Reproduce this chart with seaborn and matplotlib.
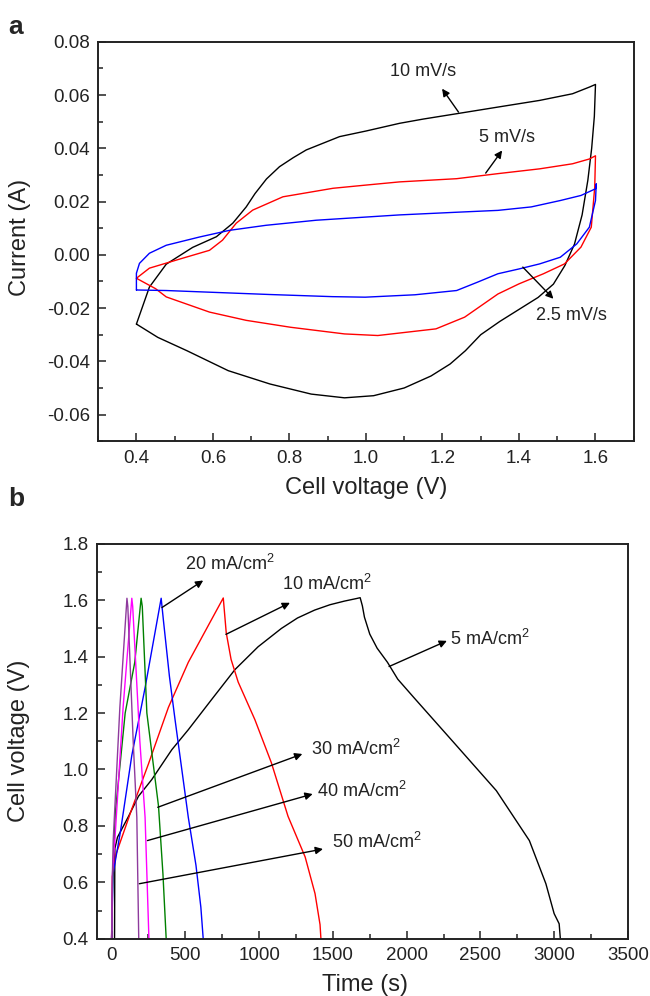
import matplotlib

matplotlib.use("Agg")
import matplotlib.pyplot as plt
import pandas as pd
import seaborn as sns
from matplotlib.ticker import MultipleLocator

# %%
# (a) cyclic voltammetry, closed loops: anodic sweep then cathodic sweep
cv_10_v = [0.400, 0.434, 0.478, 0.547, 0.609, 0.652, 0.687, 0.710, 0.740, 0.774, 0.810, 0.844, 0.931, 1.000,
           1.088, 1.150, 1.237, 1.345, 1.454, 1.540, 1.584, 1.600,
           1.597, 1.590, 1.580, 1.565, 1.545, 1.520, 1.490, 1.450, 1.400, 1.350, 1.300, 1.260, 1.220, 1.170,
           1.100, 1.020, 0.944, 0.857, 0.749, 0.640, 0.532, 0.456, 0.400]
cv_10_i = [-0.0260, -0.0121, -0.0035, 0.0028, 0.0068, 0.0119, 0.0180, 0.0230, 0.0285, 0.0331, 0.0365, 0.0394,
           0.0444, 0.0465, 0.0494, 0.0510, 0.0530, 0.0555, 0.0580, 0.0605, 0.0630, 0.0640,
           0.0520, 0.0400, 0.0280, 0.0150, 0.0040, -0.0040, -0.0110, -0.0160, -0.0205, -0.0250, -0.0300,
           -0.0360, -0.0410, -0.0455, -0.0500, -0.0529, -0.0537, -0.0523, -0.0485, -0.0435, -0.0360, -0.0310,
           -0.0260]

cv_5_v = [0.400, 0.434, 0.520, 0.591, 0.625, 0.661, 0.704, 0.783, 0.914, 1.000, 1.088, 1.237, 1.345, 1.454,
          1.540, 1.584, 1.600,
          1.598, 1.589, 1.562, 1.519, 1.464, 1.400, 1.345, 1.258, 1.183, 1.031, 0.944, 0.803, 0.687, 0.591,
          0.478, 0.450, 0.400]
cv_5_i = [-0.0088, -0.0050, -0.0013, 0.0017, 0.0055, 0.0119, 0.0168, 0.0218, 0.0250, 0.0262, 0.0274, 0.0286,
          0.0305, 0.0323, 0.0342, 0.0360, 0.0372,
          0.0254, 0.0104, 0.0029, -0.0034, -0.0071, -0.0109, -0.0147, -0.0234, -0.0278, -0.0303, -0.0297,
          -0.0272, -0.0246, -0.0215, -0.0158, -0.0127, -0.0088]

cv_25_v = [0.400, 0.400, 0.408, 0.434, 0.478, 0.565, 0.643, 0.739, 0.870, 1.088, 1.237, 1.345, 1.432, 1.508,
           1.562, 1.600, 1.602,
           1.600, 1.584, 1.551, 1.508, 1.454, 1.400, 1.345, 1.291, 1.237, 1.128, 0.998, 0.912, 0.749, 0.586,
           0.478, 0.400]
cv_25_i = [-0.0132, -0.0069, -0.0032, 0.0006, 0.0036, 0.0067, 0.0092, 0.0111, 0.0130, 0.0150, 0.0160, 0.0167,
           0.0180, 0.0204, 0.0223, 0.0248, 0.0267,
           0.0204, 0.0104, 0.0041, -0.0009, -0.0034, -0.0053, -0.0071, -0.0103, -0.0134, -0.0150, -0.0159,
           -0.0157, -0.0149, -0.0140, -0.0134, -0.0132]

# (b) galvanostatic charge/discharge
gcd_50_t = [0, 5, 11, 56, 104, 110, 146, 171, 184]
gcd_50_v = [0.40, 0.62, 0.75, 1.22, 1.607, 1.578, 1.104, 0.83, 0.40]
gcd_40_t = [0, 6, 22, 78, 137, 143, 191, 227, 253]
gcd_40_v = [0.40, 0.63, 0.749, 1.22, 1.607, 1.578, 1.104, 0.83, 0.40]
gcd_30_t = [0, 8, 25, 92, 157, 200, 208, 239, 318, 348, 370]
gcd_30_v = [0.40, 0.62, 0.846, 1.20, 1.38, 1.607, 1.578, 1.20, 0.87, 0.63, 0.40]
gcd_20_t = [0, 10, 60, 137, 227, 336, 351, 392, 430, 520, 572, 605, 621]
gcd_20_v = [0.40, 0.63, 0.78, 1.05, 1.29, 1.607, 1.53, 1.33, 1.177, 0.83, 0.66, 0.512, 0.40]
gcd_10_t = [0, 5, 30, 137, 250, 385, 520, 655, 757, 777, 810, 858, 971, 1083, 1196, 1312, 1379, 1413, 1419]
gcd_10_v = [0.40, 0.62, 0.70, 0.86, 1.02, 1.22, 1.38, 1.51, 1.608, 1.485, 1.39, 1.31, 1.177, 1.024, 0.834,
            0.69, 0.56, 0.45, 0.40]
gcd_5_t = [20, 22, 40, 115, 182, 272, 408, 520, 678, 836, 993, 1151, 1260, 1376, 1480, 1579, 1660, 1685, 1700,
           1714, 1750, 1800, 1870, 1940, 2049, 2329, 2608, 2832, 2944, 3000, 3034, 3042]
gcd_5_v = [0.40, 0.72, 0.76, 0.834, 0.905, 0.964, 1.07, 1.141, 1.248, 1.354, 1.435, 1.50, 1.537, 1.565, 1.584,
           1.597, 1.606, 1.609, 1.58, 1.54, 1.48, 1.43, 1.38, 1.32, 1.255, 1.09, 0.925, 0.748, 0.595, 0.489,
           0.453, 0.40]

# %%
sns.set_style("ticks")
plt.rcParams["font.family"] = ["Liberation Sans", "DejaVu Sans"]
plt.rcParams["mathtext.fontset"] = "custom"
plt.rcParams["mathtext.rm"] = "Liberation Sans"
plt.rcParams["mathtext.it"] = "Liberation Sans"

fig = plt.figure(figsize=(6.5, 9.96), dpi=100)
ax_a = fig.add_axes([0.151, 0.557, 0.824, 0.401])
ax_b = fig.add_axes([0.149, 0.0575, 0.817, 0.3965])

cv_curves = [(cv_10_v, cv_10_i, "black"), (cv_5_v, cv_5_i, "#ff0000"), (cv_25_v, cv_25_i, "#0000ff")]
for v, i, c in cv_curves:
    sns.lineplot(pd.DataFrame({"v": v, "i": i}), x="v", y="i", sort=False, estimator=None,
                 color=c, lw=1.0, ax=ax_a)

gcd_curves = [
    (gcd_5_t, gcd_5_v, "black"),
    (gcd_10_t, gcd_10_v, "#ff0000"),
    (gcd_20_t, gcd_20_v, "#0000ff"),
    (gcd_30_t, gcd_30_v, "#008000"),
    (gcd_40_t, gcd_40_v, "#ff00ff"),
    (gcd_50_t, gcd_50_v, "#8e3a9d"),
]
for t, v, c in gcd_curves:
    sns.lineplot(pd.DataFrame({"t": t, "v": v}), x="t", y="v", sort=False, estimator=None,
                 color=c, lw=1.0, ax=ax_b)

# %%
ax_a.set_xlim(0.3, 1.7)
ax_a.set_ylim(-0.07, 0.08)
ax_a.xaxis.set_minor_locator(MultipleLocator(0.1))
ax_a.yaxis.set_major_locator(MultipleLocator(0.02))
ax_a.yaxis.set_minor_locator(MultipleLocator(0.01))
ax_a.set_xticks([0.4, 0.6, 0.8, 1.0, 1.2, 1.4, 1.6])
ax_a.yaxis.set_major_formatter(lambda y, _: f"{y:.2f}")
ax_a.xaxis.set_major_formatter(lambda x, _: f"{x:.1f}")

ax_b.set_xlim(-100, 3500)
ax_b.set_ylim(0.4, 1.8)
ax_b.xaxis.set_major_locator(MultipleLocator(500))
ax_b.xaxis.set_minor_locator(MultipleLocator(250))
ax_b.yaxis.set_major_locator(MultipleLocator(0.2))
ax_b.yaxis.set_minor_locator(MultipleLocator(0.1))
ax_b.yaxis.set_major_formatter(lambda y, _: f"{y:.1f}")

for ax in (ax_a, ax_b):
    ax.tick_params(which="both", direction="in", top=False, right=False, labelsize=13.5, pad=6,
                   color="#222222", labelcolor="#222222")
    ax.tick_params(which="major", length=6, width=1.1)
    ax.tick_params(which="minor", length=3.5, width=1.1)
    for s in ax.spines.values():
        s.set_linewidth(1.4)
        s.set_color("#222222")

ax_a.set_xlabel("Cell voltage (V)", fontsize=17, color="#222222")
ax_a.set_ylabel("Current (A)", fontsize=17, color="#222222")
ax_b.set_xlabel("Time (s)", fontsize=17, color="#222222")
ax_b.set_ylabel("Cell voltage (V)", fontsize=17, color="#222222")
ax_a.xaxis.set_label_coords(0.5, -0.09)
ax_a.yaxis.set_label_coords(-0.125, 0.51)
ax_b.xaxis.set_label_coords(0.505, -0.09)
ax_b.yaxis.set_label_coords(-0.125, 0.5)

fig.text(0.013, 0.985, "a", fontsize=19, weight="bold", va="top")
fig.text(0.013, 0.511, "b", fontsize=19, weight="bold", va="top")

# %%
arrow = dict(arrowstyle="-|>", color="black", lw=1.0, mutation_scale=11, shrinkA=0, shrinkB=0)

notes_a = [
    ("10 mV/s", (1.15, 0.0687), (1.242, 0.0536), (1.199, 0.0624)),
    ("5 mV/s", (1.369, 0.0442), (1.313, 0.0307), (1.356, 0.0392)),
    ("2.5 mV/s", (1.537, -0.0228), (1.41, -0.0046), (1.49, -0.0165)),
]
for label, pos, tail, head in notes_a:
    ax_a.annotate("", xy=head, xytext=tail, arrowprops=arrow)
    ax_a.text(*pos, label, fontsize=13, ha="center", va="center", color="#222222")

notes_b = [
    ("20 mA/cm$^2$", (803, 1.727), (341, 1.574), (621, 1.67)),
    ("10 mA/cm$^2$", (1461, 1.656), (775, 1.479), (1209, 1.591)),
    ("5 mA/cm$^2$", (2566, 1.461), (1881, 1.365), (2273, 1.456)),
    ("30 mA/cm$^2$", (1657, 1.072), (313, 0.866), (1293, 1.055)),
    ("40 mA/cm$^2$", (1699, 0.925), (243, 0.748), (1363, 0.913)),
    ("50 mA/cm$^2$", (1797, 0.742), (188, 0.595), (1433, 0.718)),
]
for label, pos, tail, head in notes_b:
    ax_b.annotate("", xy=head, xytext=tail, arrowprops=arrow)
    ax_b.text(*pos, label, fontsize=13, ha="center", va="center", color="#222222")

fig.savefig("out.png", dpi=100)
